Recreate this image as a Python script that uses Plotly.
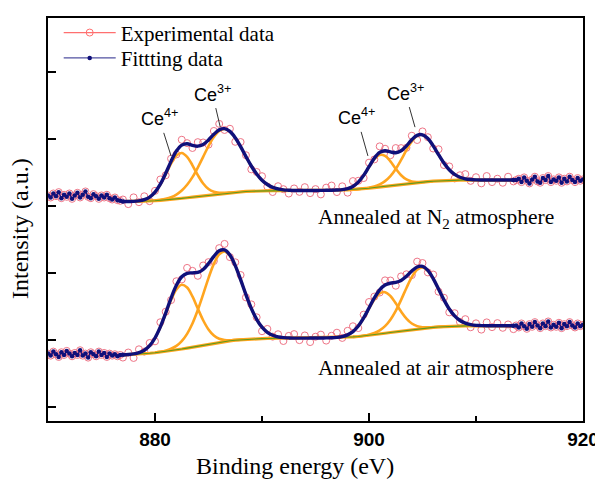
import numpy as np
import plotly.graph_objects as go

# ---------------- data ----------------
# fitted region 877-913.5 (0.5 eV step); raw tails 870-876.75 and 913.75-920 (0.25 eV step)
STEP = 0.5
TAIL_STEP = 0.25
FIT_START = 877.0
LEFT_START = 870.0
RIGHT_START = 913.75

# Shirley-type backgrounds on the fitted region (877 .. 913.5)
bkg_upper = [3.070, 3.070, 3.070, 3.072, 3.075, 3.078, 3.082, 3.087, 3.093, 3.100,
             3.108, 3.117, 3.126, 3.135, 3.145, 3.155, 3.165, 3.175, 3.185, 3.194,
             3.202, 3.209, 3.215, 3.220, 3.224, 3.227, 3.229, 3.230, 3.231, 3.232,
             3.232, 3.233, 3.233, 3.234, 3.234, 3.235, 3.235, 3.236, 3.237, 3.238,
             3.240, 3.242, 3.245, 3.249, 3.254, 3.261, 3.269, 3.278, 3.288, 3.298,
             3.307, 3.316, 3.325, 3.334, 3.343, 3.352, 3.360, 3.367, 3.373, 3.378,
             3.382, 3.385, 3.387, 3.389, 3.390, 3.390, 3.390, 3.390, 3.390, 3.390,
             3.390, 3.390, 3.390, 3.390]
bkg_lower = [0.780, 0.783, 0.787, 0.792, 0.798, 0.805, 0.813, 0.822, 0.832, 0.843,
             0.855, 0.868, 0.882, 0.897, 0.912, 0.927, 0.942, 0.956, 0.969, 0.981,
             0.991, 1.000, 1.007, 1.013, 1.018, 1.021, 1.024, 1.026, 1.027, 1.028,
             1.029, 1.030, 1.030, 1.031, 1.031, 1.032, 1.032, 1.033, 1.034, 1.035,
             1.037, 1.040, 1.044, 1.049, 1.055, 1.063, 1.072, 1.082, 1.093, 1.104,
             1.115, 1.126, 1.137, 1.148, 1.158, 1.168, 1.177, 1.185, 1.192, 1.198,
             1.203, 1.207, 1.210, 1.212, 1.214, 1.215, 1.215, 1.215, 1.215, 1.215,
             1.215, 1.215, 1.215, 1.215]

# fitted component heights above background: (start energy, values)
upper_ce4_a = (877.0, [0.000, 0.001, 0.002, 0.008, 0.022, 0.056, 0.124, 0.234, 0.381, 0.535,
                       0.649, 0.678, 0.611, 0.475, 0.319, 0.184, 0.092, 0.040, 0.015, 0.005,
                       0.001, 0.000])
upper_ce3_a = (878.0, [0.000, 0.000, 0.001, 0.001, 0.003, 0.008, 0.017, 0.034, 0.066, 0.117,
                       0.194, 0.299, 0.432, 0.582, 0.732, 0.858, 0.939, 0.959, 0.913, 0.812,
                       0.673, 0.521, 0.376, 0.254, 0.159, 0.094, 0.051, 0.026, 0.012, 0.006,
                       0.002, 0.000])
upper_ce4_b = (896.5, [0.000, 0.001, 0.005, 0.017, 0.046, 0.104, 0.197, 0.315, 0.424, 0.478,
                       0.454, 0.362, 0.243, 0.137, 0.065, 0.026, 0.009, 0.002, 0.001, 0.000])
upper_ce3_b = (898.5, [0.000, 0.001, 0.002, 0.006, 0.016, 0.037, 0.076, 0.142, 0.239, 0.365,
                       0.502, 0.623, 0.697, 0.704, 0.642, 0.528, 0.392, 0.263, 0.159, 0.087,
                       0.043, 0.019, 0.008, 0.003, 0.001, 0.000])

lower_ce4_a = (877.0, [0.001, 0.003, 0.008, 0.022, 0.052, 0.113, 0.218, 0.371, 0.561, 0.756,
                       0.904, 0.960, 0.904, 0.756, 0.561, 0.371, 0.218, 0.113, 0.052, 0.022,
                       0.008, 0.003, 0.001, 0.000])
lower_ce3_a = (880.0, [0.002, 0.005, 0.012, 0.030, 0.061, 0.119, 0.213, 0.352, 0.538, 0.757,
                       0.985, 1.183, 1.313, 1.344, 1.271, 1.110, 0.895, 0.666, 0.457, 0.291,
                       0.170, 0.092, 0.046, 0.021, 0.009, 0.004, 0.001, 0.000])
lower_ce4_b = (896.5, [0.001, 0.005, 0.014, 0.036, 0.079, 0.155, 0.265, 0.398, 0.524, 0.605,
                       0.613, 0.545, 0.425, 0.290, 0.174, 0.091, 0.042, 0.017, 0.006, 0.002,
                       0.001, 0.000])
lower_ce3_b = (898.5, [0.000, 0.001, 0.004, 0.010, 0.025, 0.054, 0.106, 0.191, 0.312, 0.465,
                       0.632, 0.783, 0.883, 0.908, 0.851, 0.726, 0.565, 0.401, 0.259, 0.153,
                       0.082, 0.040, 0.018, 0.007, 0.003, 0.001, 0.000])

# experimental scatter around the fit in the fitted region
resid_upper = [0.03, -0.04, 0.06, -0.02, 0.05, -0.06, 0.02, 0.07, -0.03, 0.04,
               -0.05, 0.08, 0.01, -0.04, 0.06, 0.03, -0.07, 0.05, 0.09, -0.02,
               0.04, -0.06, 0.07, 0.02, -0.05, 0.03, 0.06, -0.03, -0.07, 0.04,
               0.01, -0.05, 0.03, -0.02, 0.05, -0.04, 0.02, -0.06, 0.04, 0.07,
               -0.03, 0.05, -0.06, 0.08, 0.02, -0.04, 0.06, -0.02, 0.09, 0.03,
               -0.05, 0.07, 0.04, -0.03, 0.06, -0.07, 0.05, 0.02, -0.04, 0.08,
               -0.03, 0.05, -0.06, 0.03, 0.07, -0.02, 0.04, -0.05, 0.06, -0.03,
               0.02, -0.04, 0.05, -0.02]
resid_lower = [-0.04, 0.03, -0.06, 0.05, -0.02, 0.04, -0.05, 0.07, 0.02, -0.03,
               0.06, -0.04, 0.08, 0.03, -0.05, 0.06, 0.02, -0.07, 0.04, 0.09,
               -0.03, 0.05, 0.07, -0.04, 0.06, 0.03, -0.06, 0.05, -0.02, 0.04,
               -0.05, 0.03, 0.06, -0.03, 0.04, -0.06, 0.02, 0.05, -0.04, 0.03,
               0.07, -0.02, 0.06, 0.08, -0.03, 0.05, 0.09, 0.02, -0.04, 0.07,
               0.04, -0.05, 0.06, 0.03, -0.06, 0.08, 0.05, -0.03, 0.06, -0.04,
               0.03, -0.05, 0.04, -0.02, 0.06, -0.04, 0.03, -0.06, 0.05, -0.02,
               0.04, -0.03, 0.02, -0.05]

# raw tails outside the fitted region
tail_left_upper = [3.16, 3.13, 3.19, 3.15, 3.21, 3.12, 3.17, 3.14, 3.19, 3.11,
                   3.16, 3.20, 3.13, 3.17, 3.22, 3.14, 3.12, 3.18, 3.15, 3.11,
                   3.16, 3.13, 3.17, 3.12, 3.10, 3.13, 3.09, 3.08]
tail_right_upper = [3.39, 3.41, 3.36, 3.43, 3.38, 3.34, 3.40, 3.44, 3.37, 3.35,
                    3.42, 3.39, 3.45, 3.36, 3.40, 3.38, 3.43, 3.35, 3.41, 3.37,
                    3.44, 3.39, 3.36, 3.42, 3.38, 3.40]
tail_left_lower = [0.80, 0.77, 0.83, 0.79, 0.75, 0.82, 0.78, 0.84, 0.80, 0.76,
                   0.81, 0.78, 0.85, 0.77, 0.80, 0.74, 0.82, 0.79, 0.76, 0.83,
                   0.78, 0.81, 0.75, 0.80, 0.77, 0.79, 0.76, 0.78]
tail_right_lower = [1.22, 1.19, 1.25, 1.21, 1.17, 1.24, 1.20, 1.27, 1.22, 1.18,
                    1.25, 1.21, 1.28, 1.19, 1.23, 1.20, 1.26, 1.18, 1.24, 1.21,
                    1.27, 1.22, 1.19, 1.25, 1.21, 1.23]

x_ticks = [880, 900, 920]
sample_labels = ["Annealed at N<sub>2</sub> atmosphere", "Annealed at air atmosphere"]

# ---------------- styling ----------------
PINK = "#ee7486"
NAVY = "#10107a"
ORANGE = "#ffa51f"
GREEN = "#5e9a1c"
SERIF = "Liberation Serif, Times New Roman, serif"
SANS = "Liberation Sans, Arial, sans-serif"

fit_x = FIT_START + STEP * np.arange(len(bkg_upper))

fig = go.Figure()


def add_spectrum(bkg, comps, resid, tl, tr):
    bkg = np.array(bkg, float)
    env = bkg.copy()
    pieces = []
    for start, vals in comps:
        i0 = int(round((start - FIT_START) / STEP))
        v = np.array(vals, float)
        env[i0:i0 + len(v)] += v
        pieces.append((fit_x[i0:i0 + len(v)], bkg[i0:i0 + len(v)] + v))
    lx = LEFT_START + TAIL_STEP * np.arange(len(tl))
    rx = RIGHT_START + TAIL_STEP * np.arange(len(tr))
    ex = np.concatenate([lx, fit_x, rx])
    ey = np.concatenate([tl, env + np.array(resid), tr])
    # experimental data (open circles)
    fig.add_trace(go.Scatter(x=ex, y=ey, mode="markers", showlegend=False,
                             marker=dict(symbol="circle-open", size=7, color=PINK,
                                         line=dict(width=1, color=PINK))))
    # components
    for px, py in pieces:
        fig.add_trace(go.Scatter(x=px, y=py, mode="lines", showlegend=False,
                                 line=dict(color=ORANGE, width=2.6, shape="spline")))
    fig.add_trace(go.Scatter(x=fit_x, y=bkg, mode="lines", showlegend=False,
                             line=dict(color=ORANGE, width=3.2)))
    fig.add_trace(go.Scatter(x=fit_x, y=bkg, mode="lines", showlegend=False,
                             line=dict(color=GREEN, width=1.1)))
    # fitting data: raw tails as dots, fitted envelope as thick line
    fig.add_trace(go.Scatter(x=np.concatenate([lx, fit_x[:1]]), y=np.concatenate([tl, env[:1]]),
                             mode="lines+markers", showlegend=False,
                             line=dict(color=NAVY, width=1.2),
                             marker=dict(symbol="circle", size=4.5, color=NAVY)))
    fig.add_trace(go.Scatter(x=np.concatenate([fit_x[-1:], rx]), y=np.concatenate([env[-1:], tr]),
                             mode="lines+markers", showlegend=False,
                             line=dict(color=NAVY, width=1.2),
                             marker=dict(symbol="circle", size=4.5, color=NAVY)))
    fig.add_trace(go.Scatter(x=fit_x, y=env, mode="lines", showlegend=False,
                             line=dict(color=NAVY, width=3.4, shape="spline")))


add_spectrum(bkg_upper, [upper_ce4_a, upper_ce3_a, upper_ce4_b, upper_ce3_b],
             resid_upper, tail_left_upper, tail_right_upper)
add_spectrum(bkg_lower, [lower_ce4_a, lower_ce3_a, lower_ce4_b, lower_ce3_b],
             resid_lower, tail_left_lower, tail_right_lower)

# legend entries (one legend box per row for exact placement)
fig.add_trace(go.Scatter(x=[None], y=[None], mode="lines+markers", name="Experimental data",
                         legend="legend",
                         line=dict(color="#ff6f6f", width=1.3),
                         marker=dict(symbol="circle-open", size=7, color="#ff6f6f")))
fig.add_trace(go.Scatter(x=[None], y=[None], mode="lines+markers", name="Fittting data",
                         legend="legend2",
                         line=dict(color="#5050a0", width=1.3),
                         marker=dict(symbol="circle", size=4.5, color=NAVY)))

annotations = []
# peak labels with pointer lines
for (tx, ty, ax, ay, txt) in [(881.5, 3.75, -12, -38, "Ce<sup>4+</sup>"),
                              (886.1, 4.18, -8, -34, "Ce<sup>3+</sup>"),
                              (899.9, 3.75, -11, -39, "Ce<sup>4+</sup>"),
                              (904.3, 4.18, -10, -35, "Ce<sup>3+</sup>")]:
    annotations.append(dict(x=tx, y=ty, ax=ax, ay=ay, text=txt, showarrow=True,
                            arrowhead=0, arrowwidth=1, arrowcolor="#333333", startstandoff=2,
                            font=dict(family=SANS, size=18, color="black")))
for txt, yy in zip(sample_labels, [2.81, 0.59]):
    annotations.append(dict(x=895.0, y=yy, xanchor="left", yanchor="middle", text=txt,
                            showarrow=False, font=dict(family=SERIF, size=21.5, color="black")))
annotations.append(dict(x=0.461, y=-0.1125, xref="paper", yref="paper", text="Binding energy (eV)",
                        showarrow=False, xanchor="center", yanchor="middle",
                        font=dict(family=SERIF, size=24, color="black")))
annotations.append(dict(x=-0.052, y=0.477, xref="paper", yref="paper", text="Intensity (a.u.)",
                        showarrow=False, textangle=-90, xanchor="center", yanchor="middle",
                        font=dict(family=SERIF, size=24, color="black")))

legend_style = dict(xanchor="left", yanchor="middle", bgcolor="rgba(0,0,0,0)",
                    font=dict(family=SERIF, size=21, color="black"), itemwidth=52)

# the page body adds an 8 px offset, so the figure is 8 px smaller and margins shifted
fig.update_layout(
    width=595, height=472,
    margin=dict(l=40, r=17, t=4, b=59),
    paper_bgcolor="white", plot_bgcolor="white",
    annotations=annotations,
    legend=dict(x=0.02, y=0.963, **legend_style),
    legend2=dict(x=0.02, y=0.9, **legend_style),
    xaxis=dict(range=[870, 920], tickvals=x_ticks, ticks="inside", ticklen=8, tickwidth=1.5,
               tickcolor="black", showline=True, linecolor="black", linewidth=1.6, mirror=True,
               showgrid=False, zeroline=False,
               tickfont=dict(family=SANS, size=19, color="black", weight="bold"),
               minor=dict(dtick=10, tick0=870, ticks="inside", ticklen=5, tickwidth=1.5,
                          tickcolor="black", showgrid=False)),
    yaxis=dict(range=[-0.206, 5.809], tickvals=[0, 1, 2, 3, 4, 5], showticklabels=False,
               ticks="inside", ticklen=8, tickwidth=1.5, tickcolor="black",
               showline=True, linecolor="black", linewidth=1.6, mirror=True,
               showgrid=False, zeroline=False),
)

fig.write_html("out.html")
